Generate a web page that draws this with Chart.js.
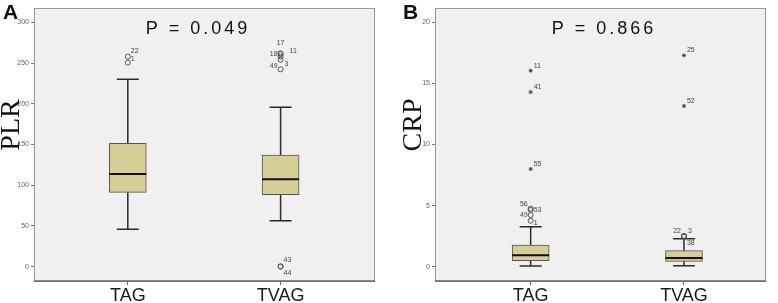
<!DOCTYPE html>
<html>
<head>
<meta charset="utf-8">
<script src="https://cdn.jsdelivr.net/npm/chart.js@4/dist/chart.umd.min.js"></script>
<style>
  body { margin: 0; background: #fff; }
  #wrap { display: flex; width: 778px; height: 303px; }
  canvas { display: block; }
</style>
</head>
<body>
<div id="wrap">
  <canvas id="chartA" width="389" height="303"></canvas>
  <canvas id="chartB" width="389" height="303"></canvas>
</div>
<script>
const groups = ["TAG", "TVAG"];

// panel A - PLR
const plrTicks = [0, 50, 100, 150, 200, 250, 300];
const plrLow = [45.9, 56.4];
const plrQ1 = [91.3, 88.4];
const plrMedian = [113.8, 107.2];
const plrQ3 = [151.5, 137.1];
const plrHigh = [230, 195.7];
const plrOutGroup = [0, 0, 1, 1, 1, 1, 1, 1, 1];
const plrOutValue = [257.9, 250.5, 262, 261, 258, 254, 242.3, 0.5, 0];
const plrOutId = ["22", "1", "17", "18", "11", "3", "49", "43", "44"];

// panel B - CRP
const crpTicks = [0, 5, 10, 15, 20];
const crpLow = [0.05, 0.08];
const crpQ1 = [0.49, 0.44];
const crpMedian = [0.93, 0.71];
const crpQ3 = [1.77, 1.31];
const crpHigh = [3.27, 2.29];
const crpOutGroup = [0, 0, 0, 0, 1, 1, 1];
const crpOutValue = [4.75, 4.64, 4.23, 3.76, 2.52, 2.5, 2.45];
const crpOutId = ["56", "53", "49", "1", "22", "3", "38"];
const crpExtGroup = [0, 0, 0, 1, 1];
const crpExtValue = [16.04, 14.29, 7.99, 17.29, 13.15];
const crpExtId = ["11", "41", "55", "25", "52"];

// label placement next to each outlier: [dx, dy, align]
const plrLabelPos = [[3, -6, "left"], [3, -4, "left"], [0, -10, "center"], [-3, 0, "right"],
  [9, -5, "left"], [4, 4, "left"], [-3, -3, "right"], [3, -6, "left"], [3, 6, "left"]];
const crpLabelPos = [[-3, -5, "right"], [3, 0, "left"], [-3, 0, "right"], [3, 2, "left"],
  [-3, -5, "right"], [4, -5, "left"], [3, 6, "left"]];
const crpExtLabelPos = [[3, -5, "left"], [3, -5, "left"], [3, -5, "left"], [3, -5, "left"], [3, -5, "left"]];

function pts(gs, vs) {
  return gs.map((g, i) => ({ x: g, y: vs[i] }));
}

function makePanel(canvasId, p) {
  const extras = {
    id: "boxExtras",
    beforeDraw(chart) {
      const { ctx, chartArea: a } = chart;
      ctx.save();
      ctx.fillStyle = "#f0f0f0";
      ctx.fillRect(a.left, a.top, a.right - a.left, a.bottom - a.top);
      ctx.strokeStyle = "#999";
      ctx.lineWidth = 1;
      ctx.strokeRect(a.left + 0.5, a.top + 0.5, a.right - a.left - 1, a.bottom - a.top);
      ctx.strokeStyle = "#666";
      ctx.lineWidth = 1.5;
      ctx.beginPath();
      ctx.moveTo(a.left, a.bottom);
      ctx.lineTo(a.right, a.bottom);
      ctx.stroke();
      ctx.restore();
    },
    beforeDatasetsDraw(chart) {
      const { ctx } = chart;
      const xs = chart.scales.x, ys = chart.scales.y;
      ctx.save();
      ctx.strokeStyle = "#2a2a2a";
      ctx.lineWidth = 1.5;
      groups.forEach((g, i) => {
        const x = xs.getPixelForValue(i);
        const yHi = ys.getPixelForValue(p.high[i]);
        const yLo = ys.getPixelForValue(p.low[i]);
        ctx.beginPath();
        ctx.moveTo(x, ys.getPixelForValue(p.q3[i]));
        ctx.lineTo(x, yHi);
        ctx.moveTo(x - 11, yHi);
        ctx.lineTo(x + 11, yHi);
        ctx.moveTo(x, ys.getPixelForValue(p.q1[i]));
        ctx.lineTo(x, yLo);
        ctx.moveTo(x - 11, yLo);
        ctx.lineTo(x + 11, yLo);
        ctx.stroke();
      });
      ctx.restore();
    },
    afterDatasetsDraw(chart) {
      const { ctx } = chart;
      const xs = chart.scales.x, ys = chart.scales.y;
      ctx.save();
      // medians
      ctx.strokeStyle = "#111";
      ctx.lineWidth = 2;
      groups.forEach((g, i) => {
        const x = xs.getPixelForValue(i);
        const y = ys.getPixelForValue(p.median[i]);
        ctx.beginPath();
        ctx.moveTo(x - 18.5, y);
        ctx.lineTo(x + 18.5, y);
        ctx.stroke();
      });
      // outlier case numbers
      ctx.font = "7px Arial";
      ctx.fillStyle = "#444";
      ctx.textBaseline = "middle";
      chart.data.datasets.forEach((ds, di) => {
        if (!ds.ids) return;
        chart.getDatasetMeta(di).data.forEach((pt, j) => {
          const [dx, dy, al] = ds.labelPos[j];
          ctx.textAlign = al;
          ctx.fillText(ds.ids[j], pt.x + dx, pt.y + dy);
        });
      });
      // P value
      ctx.fillStyle = "#111";
      ctx.font = "18px Arial";
      ctx.textAlign = "center";
      ctx.letterSpacing = "3px";
      ctx.fillText(p.pText, p.pX, 29);
      ctx.letterSpacing = "0px";
      // panel letter
      ctx.font = "bold 21px Arial";
      ctx.textAlign = "left";
      ctx.textBaseline = "top";
      ctx.fillText(p.letter, p.letterX, 3);
      // axis title
      ctx.translate(p.titleX, 125);
      ctx.rotate(-Math.PI / 2);
      ctx.font = "28px 'Liberation Serif', 'Times New Roman', serif";
      ctx.textAlign = "center";
      ctx.textBaseline = "middle";
      ctx.fillText(p.axisTitle, 0, 0);
      ctx.restore();
    }
  };

  const datasets = [{
    type: "bar",
    data: groups.map((g, i) => ({ x: i, y: [p.q1[i], p.q3[i]] })),
    backgroundColor: "#d5ce97",
    borderColor: "#555",
    borderWidth: 1,
    borderSkipped: false,
    barThickness: 37
  }, {
    type: "scatter",
    data: pts(p.outGroup, p.outValue),
    ids: p.outId,
    labelPos: p.outPos,
    pointStyle: "circle",
    pointRadius: 2.5,
    backgroundColor: "rgba(0,0,0,0)",
    borderColor: "#555",
    borderWidth: 1
  }];
  if (p.extGroup) {
    datasets.push({
      type: "scatter",
      data: pts(p.extGroup, p.extValue),
      ids: p.extId,
      labelPos: p.extPos,
      pointStyle: "star",
      pointRadius: 2,
      borderColor: "#444",
      borderWidth: 1
    });
  }

  new Chart(document.getElementById(canvasId), {
    type: "bar",
    data: { datasets: datasets },
    options: {
      responsive: false,
      animation: false,
      layout: { padding: { top: 8, right: p.padRight, left: 0, bottom: 0 } },
      plugins: { legend: { display: false }, tooltip: { enabled: false } },
      scales: {
        x: {
          type: "linear",
          offset: false,
          min: p.xMin,
          max: p.xMax,
          afterBuildTicks: s => { s.ticks = [{ value: 0 }, { value: 1 }]; },
          afterFit: s => { s.height = 22; },
          ticks: {
            callback: v => groups[v],
            font: { size: 18, family: "Arial" },
            color: "#1a1a1a",
            padding: 0,
            maxRotation: 0
          },
          grid: { offset: false, drawOnChartArea: false, tickLength: 4, color: "#666" },
          border: { display: false }
        },
        y: {
          min: p.yMin,
          max: p.yMax,
          afterBuildTicks: s => { s.ticks = p.ticks.map(v => ({ value: v })); },
          afterFit: s => { s.width = p.yWidth; },
          ticks: { font: { size: 7, family: "Arial" }, color: "#666", padding: 2 },
          grid: { drawOnChartArea: false, tickLength: 3, color: "#777" },
          border: { display: false }
        }
      }
    },
    plugins: [extras]
  });
}

makePanel("chartA", {
  low: plrLow, q1: plrQ1, median: plrMedian, q3: plrQ3, high: plrHigh,
  outGroup: plrOutGroup, outValue: plrOutValue, outId: plrOutId, outPos: plrLabelPos,
  ticks: plrTicks, yMin: -17.6, yMax: 317.6, xMin: -0.614, xMax: 1.618,
  yWidth: 34, padRight: 14,
  pText: "P = 0.049", pX: 198, letter: "A", letterX: 3, axisTitle: "PLR", titleX: 12
});

makePanel("chartB", {
  low: crpLow, q1: crpQ1, median: crpMedian, q3: crpQ3, high: crpHigh,
  outGroup: crpOutGroup, outValue: crpOutValue, outId: crpOutId, outPos: crpLabelPos,
  extGroup: crpExtGroup, extValue: crpExtValue, extId: crpExtId, extPos: crpExtLabelPos,
  ticks: crpTicks, yMin: -1.17, yMax: 21.17, xMin: -0.624, xMax: 1.535,
  yWidth: 46, padRight: 12,
  pText: "P = 0.866", pX: 215, letter: "B", letterX: 14, axisTitle: "CRP", titleX: 25
});
</script>
</body>
</html>
